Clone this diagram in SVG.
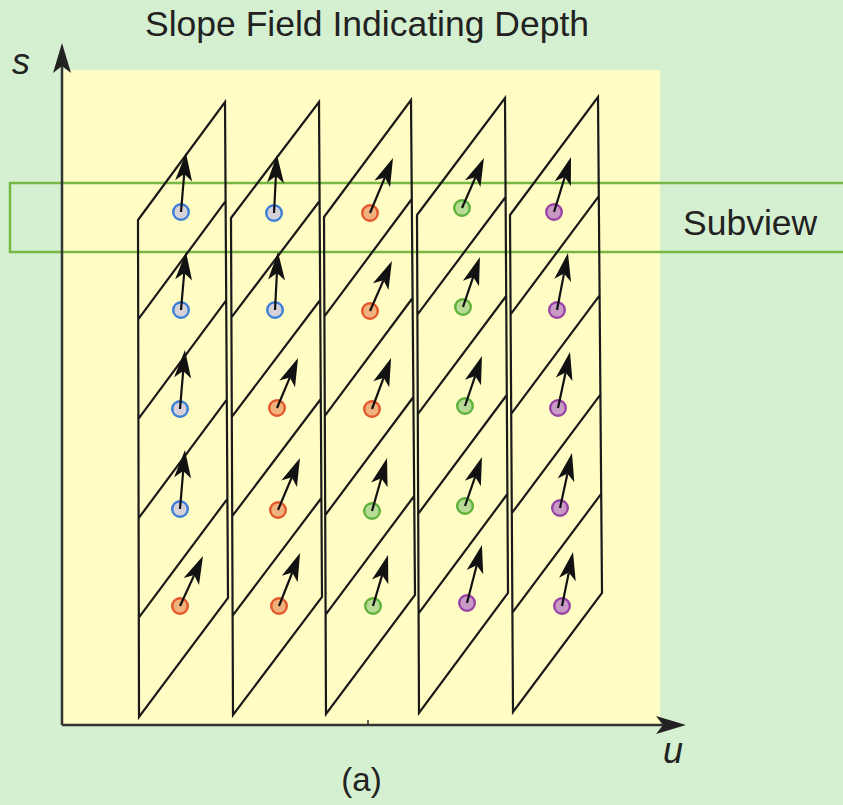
<svg xmlns="http://www.w3.org/2000/svg" width="843" height="805" viewBox="0 0 843 805">
<defs>
<style>
.txt{font-family:"Liberation Sans",Arial,sans-serif;fill:#222}
.it{font-style:italic}
.grid{fill:none;stroke:#1a1a1a;stroke-width:2.2;stroke-linejoin:miter}
.vec{stroke:#111;stroke-width:2.2;fill:none;marker-end:url(#head)}
.axis{stroke:#333;stroke-width:2.5;fill:none}
.blue{fill:#d6d0d8;stroke:#3b7fd6;stroke-width:2.4}
.orange{fill:#f0b27c;stroke:#e4572c;stroke-width:2.4}
.green{fill:#b8dc96;stroke:#5fb23a;stroke-width:2.4}
.purple{fill:#c99ac6;stroke:#9a44a8;stroke-width:2.4}
</style>
<marker id="head" viewBox="-29 -9 30 18" refX="-21" refY="0" markerWidth="30" markerHeight="18" markerUnits="userSpaceOnUse" orient="auto">
<path d="M0,0 L-28,-8.5 L-21,0 L-28,8.5 Z" fill="#111"/>
</marker>
<marker id="axhead" viewBox="-31 -10 32 20" refX="-23" refY="0" markerWidth="32" markerHeight="20" markerUnits="userSpaceOnUse" orient="auto">
<path d="M0,0 L-30,-9 L-23,0 L-30,9 Z" fill="#222"/>
</marker>
</defs>
<rect x="0" y="0" width="843" height="805" fill="#d5f0d0"/>
<rect id="field" x="63" y="70" width="597" height="655" fill="#fffcc4"/>
<g id="subview">
<rect x="10" y="183" width="840" height="69" fill="none" stroke="#76b843" stroke-width="2.5"/>
<text class="txt" x="683" y="235" font-size="35.5">Subview</text>
</g>
<g id="column1"><path class="grid" d="M138,220 L225,102 L228,598 L139,717 Z M138.2,319.4 L225.6,201.2 M138.4,418.8 L226.2,300.4 M138.6,518.2 L226.8,399.6 M138.8,617.6 L227.4,498.8"/></g>
<g id="column2"><path class="grid" d="M231,218 L319,102 L322,597 L233,715 Z M231.4,317.4 L319.6,201 M231.8,416.8 L320.2,300 M232.2,516.2 L320.8,399 M232.6,615.6 L321.4,498"/></g>
<g id="column3"><path class="grid" d="M324,217 L411,100 L415,595 L326,714 Z M324.4,316.4 L411.8,199 M324.8,415.8 L412.6,298 M325.2,515.2 L413.4,397 M325.6,614.6 L414.2,496"/></g>
<g id="column4"><path class="grid" d="M417,215 L505,98 L508,593 L419,713 Z M417.4,314.6 L505.6,197 M417.8,414.2 L506.2,296 M418.2,513.8 L506.8,395 M418.6,613.4 L507.4,494"/></g>
<g id="column5"><path class="grid" d="M510,215 L598,97 L602,593 L513,712 Z M510.6,314.4 L598.8,196.2 M511.2,413.8 L599.6,295.4 M511.8,513.2 L600.4,394.6 M512.4,612.6 L601.2,493.8"/></g>
<g id="samples">
<g id="s11"><circle class="blue" cx="181" cy="212" r="7.8"/></g>
<g id="s12"><circle class="blue" cx="274" cy="213" r="7.8"/></g>
<g id="s13"><circle class="orange" cx="370" cy="213" r="7.8"/></g>
<g id="s14"><circle class="green" cx="462" cy="208" r="7.8"/></g>
<g id="s15"><circle class="purple" cx="554" cy="212" r="7.8"/></g>
<g id="s21"><circle class="blue" cx="181" cy="310" r="7.8"/></g>
<g id="s22"><circle class="blue" cx="275" cy="310" r="7.8"/></g>
<g id="s23"><circle class="orange" cx="370" cy="311" r="7.8"/></g>
<g id="s24"><circle class="green" cx="463" cy="307" r="7.8"/></g>
<g id="s25"><circle class="purple" cx="557" cy="310" r="7.8"/></g>
<g id="s31"><circle class="blue" cx="180" cy="409" r="7.8"/></g>
<g id="s32"><circle class="orange" cx="277" cy="408" r="7.8"/></g>
<g id="s33"><circle class="orange" cx="372" cy="409" r="7.8"/></g>
<g id="s34"><circle class="green" cx="465" cy="406" r="7.8"/></g>
<g id="s35"><circle class="purple" cx="558" cy="408" r="7.8"/></g>
<g id="s41"><circle class="blue" cx="180" cy="509" r="7.8"/></g>
<g id="s42"><circle class="orange" cx="278" cy="510" r="7.8"/></g>
<g id="s43"><circle class="green" cx="372" cy="511" r="7.8"/></g>
<g id="s44"><circle class="green" cx="465" cy="506" r="7.8"/></g>
<g id="s45"><circle class="purple" cx="560" cy="508" r="7.8"/></g>
<g id="s51"><circle class="orange" cx="180" cy="606" r="7.8"/></g>
<g id="s52"><circle class="orange" cx="279" cy="606" r="7.8"/></g>
<g id="s53"><circle class="green" cx="373" cy="606" r="7.8"/></g>
<g id="s54"><circle class="purple" cx="467" cy="603" r="7.8"/></g>
<g id="s55"><circle class="purple" cx="562" cy="606" r="7.8"/></g>
</g>
<g id="connectors">
<line class="vec" x1="181" y1="212" x2="184.2" y2="173.9"/>
<line class="vec" x1="274" y1="213" x2="275.9" y2="176"/>
<line class="vec" x1="370" y1="213" x2="384.9" y2="177.4"/>
<line class="vec" x1="462" y1="208" x2="475.5" y2="177.2"/>
<line class="vec" x1="554" y1="212" x2="564.8" y2="177.1"/>
<line class="vec" x1="181" y1="310" x2="184.2" y2="272.9"/>
<line class="vec" x1="275" y1="310" x2="276.9" y2="273"/>
<line class="vec" x1="370" y1="311" x2="383.5" y2="280.2"/>
<line class="vec" x1="463" y1="307" x2="473.2" y2="276.9"/>
<line class="vec" x1="557" y1="310" x2="564" y2="273.6"/>
<line class="vec" x1="180" y1="409" x2="183.2" y2="370.9"/>
<line class="vec" x1="277" y1="408" x2="289.9" y2="377.4"/>
<line class="vec" x1="372" y1="409" x2="383.7" y2="377.7"/>
<line class="vec" x1="465" y1="406" x2="475.2" y2="375.9"/>
<line class="vec" x1="558" y1="408" x2="565.6" y2="372.5"/>
<line class="vec" x1="180" y1="509" x2="183.2" y2="470.9"/>
<line class="vec" x1="278" y1="510" x2="291.8" y2="477.3"/>
<line class="vec" x1="372" y1="511" x2="381.3" y2="478.2"/>
<line class="vec" x1="465" y1="506" x2="475.1" y2="476.8"/>
<line class="vec" x1="560" y1="508" x2="567.5" y2="473.5"/>
<line class="vec" x1="180" y1="606" x2="194.2" y2="575.1"/>
<line class="vec" x1="279" y1="606" x2="292.3" y2="572.5"/>
<line class="vec" x1="373" y1="606" x2="382.1" y2="575.1"/>
<line class="vec" x1="467" y1="603" x2="476.7" y2="565.3"/>
<line class="vec" x1="562" y1="606" x2="568.8" y2="572.6"/>
</g>
<g id="axes">
<path class="axis" d="M62,725 L62,66" marker-end="url(#axhead)"/>
<path class="axis" d="M62,725 L663,725" marker-end="url(#axhead)"/>
<line x1="368" y1="720" x2="368" y2="725" stroke="#333" stroke-width="1.5"/>
<text class="txt it" x="12" y="74" font-size="36">s</text>
<text class="txt it" x="663" y="763" font-size="36">u</text>
</g>
<text class="txt" x="367" y="36" font-size="35.5" text-anchor="middle">Slope Field Indicating Depth</text>
<text class="txt" x="361.5" y="791" font-size="33" text-anchor="middle">(a)</text>
</svg>
